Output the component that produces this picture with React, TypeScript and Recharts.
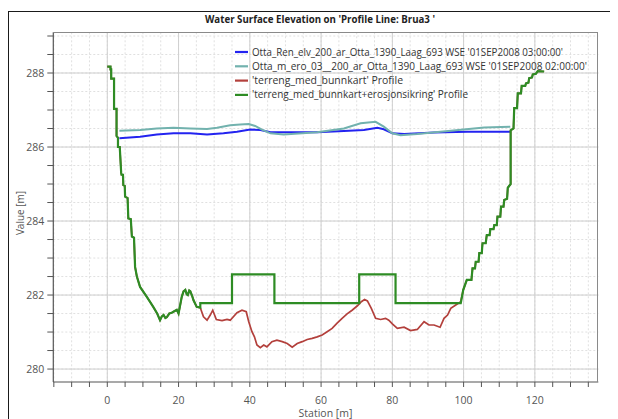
import React from 'react';
import { LineChart, Line, XAxis, YAxis, CartesianGrid, Legend } from 'recharts';

// ---------- axis ticks ----------
const xTicks = [-15, -10, -5, 0, 5, 10, 15, 20, 25, 30, 35, 40, 45, 50, 55, 60, 65, 70, 75, 80, 85, 90, 95, 100, 105, 110, 115, 120, 125, 130, 135];
const xLabelTicks = [0, 20, 40, 60, 80, 100, 120];
const yTicks = [280, 280.5, 281, 281.5, 282, 282.5, 283, 283.5, 284, 284.5, 285, 285.5, 286, 286.5, 287, 287.5, 288, 288.5, 289];
const yLabelTicks = [280, 282, 284, 286, 288];

// ---------- series names / colours ----------
const seriesNames = [
  "Otta_Ren_elv_200_ar_Otta_1390_Laag_693 WSE '01SEP2008 03:00:00'",
  "Otta_m_ero_03__200_ar_Otta_1390_Laag_693 WSE '01SEP2008 02:00:00'",
  "'terreng_med_bunnkart' Profile",
  "'terreng_med_bunnkart+erosjonsikring' Profile",
];
const seriesColors = ['#2323f0', '#72b2ae', '#b3403c', '#2e8c24'];

// ---------- water surfaces ----------
const wseRenStation = [3.4, 9.2, 13.9, 18.6, 23.3, 28.0, 32.6, 36.4, 40.1, 43.0, 45.8, 51.4, 58.9, 66.4, 72.0, 75.8, 77.6, 80.0, 83.3, 91.7, 101.1, 113.1];
const wseRenElev = [286.24, 286.28, 286.34, 286.37, 286.37, 286.34, 286.37, 286.41, 286.47, 286.46, 286.40, 286.40, 286.40, 286.43, 286.46, 286.52, 286.48, 286.37, 286.35, 286.39, 286.41, 286.41];

const wseEroStation = [3.4, 9.2, 13.9, 18.6, 23.3, 28.0, 30.8, 34.5, 37.3, 39.7, 41.5, 43.4, 45.8, 49.5, 58.9, 66.4, 71.1, 75.3, 77.6, 80.0, 82.3, 87.0, 96.4, 105.8, 113.1];
const wseEroElev = [286.44, 286.46, 286.50, 286.52, 286.50, 286.49, 286.52, 286.59, 286.61, 286.62, 286.57, 286.47, 286.37, 286.34, 286.40, 286.50, 286.64, 286.68, 286.55, 286.37, 286.32, 286.35, 286.44, 286.53, 286.55];

// ---------- terrain: shared left bank ----------
const leftBankStation = [0, 0.9, 0.9, 1.1, 1.1, 1.9, 1.9, 2.6, 2.6, 3.0, 3.0, 3.5, 3.9, 4.0, 4.4, 4.5, 4.9, 5.0, 5.7, 5.9, 6.6, 6.9, 7.5, 7.8, 8.3, 9.2, 11.1, 12.9, 14.0, 14.8, 15.3, 15.8, 16.3, 16.7, 17.4, 18.1, 18.8, 19.5, 20.0, 20.5, 20.9, 21.4, 21.9, 22.3, 22.6, 23.0, 23.3, 23.8, 24.2, 25.1, 26.1];
const leftBankElev = [288.17, 288.17, 288.1, 288.1, 287.85, 287.85, 287.03, 287.03, 286.3, 286.25, 286.0, 286.0, 285.3, 285.25, 285.25, 284.97, 284.95, 284.66, 284.62, 284.07, 284.05, 283.58, 283.55, 282.76, 282.5, 282.22, 281.95, 281.68, 281.5, 281.32, 281.42, 281.46, 281.38, 281.4, 281.5, 281.52, 281.56, 281.6, 281.5, 281.75, 281.95, 282.1, 282.14, 282.02, 282.0, 282.12, 282.1, 281.98, 281.86, 281.68, 281.66];

// ---------- terrain: shared right bank ----------
const rightBankStation = [99.9, 100.9, 102.2, 102.5, 103.2, 103.4, 104.2, 104.4, 105.1, 105.3, 106.2, 106.5, 107.3, 107.5, 108.4, 108.6, 109.3, 109.5, 110.3, 110.5, 111.2, 111.4, 112.2, 112.4, 113.2, 113.2, 114.0, 114.2, 115.0, 115.2, 116.1, 116.3, 117.3, 117.5, 118.2, 118.4, 119.2, 119.4, 120.3, 120.8, 122.6];
const rightBankElev = [282.14, 282.41, 282.41, 282.72, 282.72, 282.9, 282.9, 283.13, 283.13, 283.4, 283.4, 283.62, 283.62, 283.78, 283.78, 283.89, 283.89, 284.12, 284.12, 284.39, 284.39, 284.57, 284.6, 284.9, 285.0, 286.45, 286.5, 287.05, 287.05, 287.45, 287.45, 287.65, 287.65, 287.72, 287.74, 287.86, 287.88, 287.96, 287.98, 288.05, 288.04];

// ---------- channel bed: terreng_med_bunnkart ----------
const bedStation = [27.0, 28.0, 28.9, 29.6, 30.6, 32.2, 33.6, 34.5, 36.4, 37.8, 39.0, 39.7, 40.6, 41.3, 42.0, 42.95, 43.9, 44.8, 46.2, 47.6, 49.1, 50.5, 51.9, 53.3, 54.7, 56.1, 57.5, 58.9, 60.3, 61.7, 63.1, 64.5, 65.9, 67.3, 68.7, 70.2, 71.3, 72.2, 73.0, 74.1, 75.3, 76.7, 78.1, 79.0, 80.0, 81.4, 83.3, 85.1, 87.0, 88.9, 90.3, 91.7, 93.4, 94.5, 95.5, 96.4, 97.8, 99.2];
const bedElev = [281.41, 281.32, 281.46, 281.59, 281.34, 281.31, 281.34, 281.32, 281.52, 281.59, 281.55, 281.28, 281.01, 280.87, 280.65, 280.58, 280.65, 280.6, 280.74, 280.78, 280.74, 280.69, 280.59, 280.69, 280.74, 280.8, 280.83, 280.87, 280.92, 281.01, 281.1, 281.24, 281.37, 281.49, 281.59, 281.71, 281.82, 281.88, 281.84, 281.64, 281.37, 281.34, 281.37, 281.32, 281.22, 281.1, 281.13, 281.04, 281.07, 281.28, 281.19, 281.19, 281.13, 281.37, 281.46, 281.64, 281.73, 281.82];

// ---------- channel bed: terreng_med_bunnkart+erosjonsikring ----------
const protStation = [26.1, 35.0, 35.0, 46.9, 46.9, 70.7, 70.7, 80.9, 80.9, 99.2];
const protElev = [281.78, 281.78, 282.56, 282.56, 281.78, 281.78, 282.56, 282.56, 281.78, 281.78];

const toPoints = (st: number[], el: number[]) => st.map((s, i) => ({ s, z: el[i] }));

const wseRen = toPoints(wseRenStation, wseRenElev);
const wseEro = toPoints(wseEroStation, wseEroElev);
const leftBank = toPoints(leftBankStation, leftBankElev);
const rightBank = toPoints(rightBankStation, rightBankElev);
const terrainBed = [...leftBank, ...toPoints(bedStation, bedElev), ...rightBank];
const terrainProt = [...leftBank, ...toPoints(protStation, protElev), ...rightBank];

const FONT = "'Open Sans', 'Noto Sans', sans-serif";

const YTick = (props: any) => {
  const { x, y, payload } = props;
  const major = yLabelTicks.includes(payload.value);
  return (
    <g>
      <line x1={x - 6} x2={x} y1={y} y2={y} stroke="#555" strokeWidth={1} />
      {major && (
        <text x={x - 9} y={y} dy={3.8} textAnchor="end" fontSize={10.5} fontFamily={FONT} fill="#555">
          {payload.value}
        </text>
      )}
    </g>
  );
};

const XTick = (props: any) => {
  const { x, y, payload } = props;
  const major = xLabelTicks.includes(payload.value);
  return (
    <g>
      <line x1={x} x2={x} y1={y} y2={y + 5} stroke="#555" strokeWidth={1} />
      {major && (
        <text x={x} y={y + 21.8} textAnchor="middle" fontSize={10.5} fontFamily={FONT} fill="#555">
          {payload.value}
        </text>
      )}
    </g>
  );
};

const legendWidths = [311, 335, 151, 216];

const LegendBox = () => (
  <svg width={380} height={60} style={{ display: 'block' }}>
    {seriesNames.map((n, i) => {
      const cy = 8 + i * 14.3;
      return (
        <g key={n}>
          <line x1={0} x2={13} y1={cy} y2={cy} stroke={seriesColors[i]} strokeWidth={2.2} />
          <text x={17} y={cy} dy={3.5} fontSize={10} fontFamily={FONT} fill="#333" textLength={legendWidths[i]} lengthAdjust="spacingAndGlyphs">
            {n}
          </text>
        </g>
      );
    })}
  </svg>
);

export default function App() {
  return (
    <div style={{ position: 'relative', width: 610, height: 411 }}>
      <style>{'html,body{overflow:hidden}'}</style>
      <div style={{ position: 'absolute', left: 0, top: 3, width: 640, height: 440, border: '1px solid #1a1a1a', boxSizing: 'border-box' }} />
      <div style={{ position: 'absolute', left: 0, top: 0 }}>
        <LineChart width={610} height={411} margin={{ top: 24.3, right: 19.7, bottom: 0, left: 0 }}>
          <CartesianGrid
            stroke="#e0e0e0"
            strokeDasharray="2 2"
            horizontalValues={yTicks}
            verticalValues={xTicks}
          />
          <CartesianGrid
            stroke="#cfcfcf"
            horizontalValues={yLabelTicks}
            verticalValues={xLabelTicks}
          />
          <XAxis
            dataKey="s"
            type="number"
            domain={[-15.15, 137.8]}
            ticks={xTicks}
            interval={0}
            allowDataOverflow
            height={37}
            tickSize={0}
            tickMargin={0}
            tick={<XTick />}
            axisLine={{ stroke: '#555', strokeWidth: 1.2 }}
          />
          <YAxis
            dataKey="z"
            type="number"
            domain={[279.65, 289.1]}
            ticks={yTicks}
            interval={0}
            allowDataOverflow
            width={45.3}
            tickSize={0}
            tickMargin={0}
            tick={<YTick />}
            axisLine={{ stroke: '#555', strokeWidth: 1.2 }}
          />
          <Legend
            layout="horizontal"
            verticalAlign="middle"
            align="center"
            content={<LegendBox />}
            wrapperStyle={{ position: 'absolute', left: 227, top: 36, width: 380, height: 60 }}
          />
          <Line data={wseRen} dataKey="z" name={seriesNames[0]} stroke={seriesColors[0]} strokeWidth={2} dot={false} isAnimationActive={false} />
          <Line data={wseEro} dataKey="z" name={seriesNames[1]} stroke={seriesColors[1]} strokeWidth={2} dot={false} isAnimationActive={false} />
          <Line data={terrainBed} dataKey="z" name={seriesNames[2]} stroke={seriesColors[2]} strokeWidth={1.7} dot={false} isAnimationActive={false} />
          <Line data={terrainProt} dataKey="z" name={seriesNames[3]} stroke={seriesColors[3]} strokeWidth={2.2} dot={false} isAnimationActive={false} />
        </LineChart>
      </div>
      <div style={{ position: 'absolute', left: 45.3, top: 24.3, width: 545, height: 349.7, borderTop: '1.5px solid #8a8a8a', borderRight: '1.5px solid #8a8a8a', boxSizing: 'border-box', pointerEvents: 'none' }} />
      <svg width={618} height={419} style={{ position: 'absolute', left: -8, top: -8, pointerEvents: 'none' }}>
        <text x={62} y={-3} fontSize={24} fontFamily={FONT} fill="#111">g</text>
        <text x={320} y={22.5} textAnchor="middle" fontSize={10.5} fontWeight="bold" fontFamily={FONT} fill="#222" textLength={230} lengthAdjust="spacingAndGlyphs">
          Water Surface Elevation on 'Profile Line: Brua3 '
        </text>
        <text x={0} y={0} transform="translate(23.5,213) rotate(-90)" textAnchor="middle" fontSize={10} fontFamily={FONT} fill="#555">
          Value [m]
        </text>
        <text x={325.5} y={416.5} textAnchor="middle" fontSize={10.5} fontFamily={FONT} fill="#555">
          Station [m]
        </text>
      </svg>
    </div>
  );
}
